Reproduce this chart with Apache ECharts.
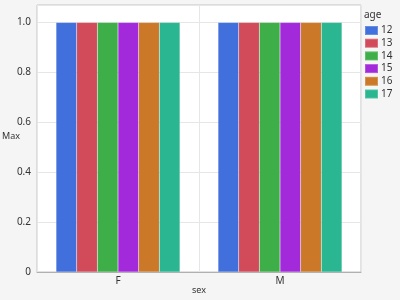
<!DOCTYPE html>
<html><head><meta charset="utf-8">
<script src="https://cdn.jsdelivr.net/npm/echarts@6/dist/echarts.min.js"></script>
<style>html,body{margin:0;padding:0;background:#f5f5f5}#c{width:400px;height:300px}</style>
</head><body><div id="c"></div>
<script>
const categories = ["F", "M"];
const ages = ["12", "13", "14", "15", "16", "17"];
const maxValues = {
  "12": [1, 1],
  "13": [1, 1],
  "14": [1, 1],
  "15": [1, 1],
  "16": [1, 1],
  "17": [1, 1]
};
const yTicks = [0, 0.2, 0.4, 0.6, 0.8, 1.0];
const colors = ["#4170DD", "#D14B5B", "#3DAE48", "#A22ADB", "#CB7828", "#29B690"];

const chart = echarts.init(document.getElementById('c'));
const font = 'Noto Sans';
chart.setOption({
  backgroundColor: '#f5f5f5',
  animation: false,
  color: colors,
  textStyle: { fontFamily: font },
  grid: { left: 37, right: 39, top: 5, bottom: 28, show: true, containLabel: false, outerBoundsMode: 'none',
    backgroundColor: '#ffffff', borderColor: '#c4c4c4', borderWidth: 1 },
  graphic: [
    { type: 'text', left: 364, top: 10, style: { text: 'age', fontSize: 10, fill: '#333', fontFamily: font } },
    { type: 'text', left: 2, top: 132, style: { text: 'Max', fontSize: 9, fill: '#333', fontFamily: font } },
    { type: 'text', left: 192, top: 286, style: { text: 'sex', fontSize: 9, fill: '#333', fontFamily: font } }
  ],
  legend: {
    orient: 'vertical', left: 364, top: 25, padding: 0,
    itemWidth: 13, itemHeight: 9, itemGap: 1.7,
    icon: 'rect',
    textStyle: { fontSize: 10, color: '#333', fontFamily: font, padding: [0, 0, 0, -2] },
    data: ages
  },
  xAxis: {
    type: 'category', data: categories,
    axisLine: { show: true, lineStyle: { color: '#b0b0b0' } },
    axisTick: { show: false },
    axisLabel: { fontSize: 10, color: '#333', margin: 4 },
    splitLine: { show: true, interval: 0, lineStyle: { color: '#e6e6e6' } }
  },
  yAxis: {
    type: 'value', min: 0, max: 1.07,
    interval: 0.2,
    axisLine: { show: false },
    axisTick: { show: false },
    axisLabel: { fontSize: 10, color: '#333', margin: 6,
      formatter: v => yTicks.some(t => Math.abs(t - v) < 1e-9) ? (v === 0 ? '0' : v.toFixed(1)) : '' },
    splitLine: { lineStyle: { color: '#e6e6e6' } }
  },
  series: ages.map((a, i) => ({
    name: a, type: 'bar', data: maxValues[a],
    barGap: '0%', barCategoryGap: '23.5%',
    itemStyle: { borderColor: 'rgba(255,255,255,0.2)', borderWidth: 0.5 }
  }))
});
</script></body></html>
